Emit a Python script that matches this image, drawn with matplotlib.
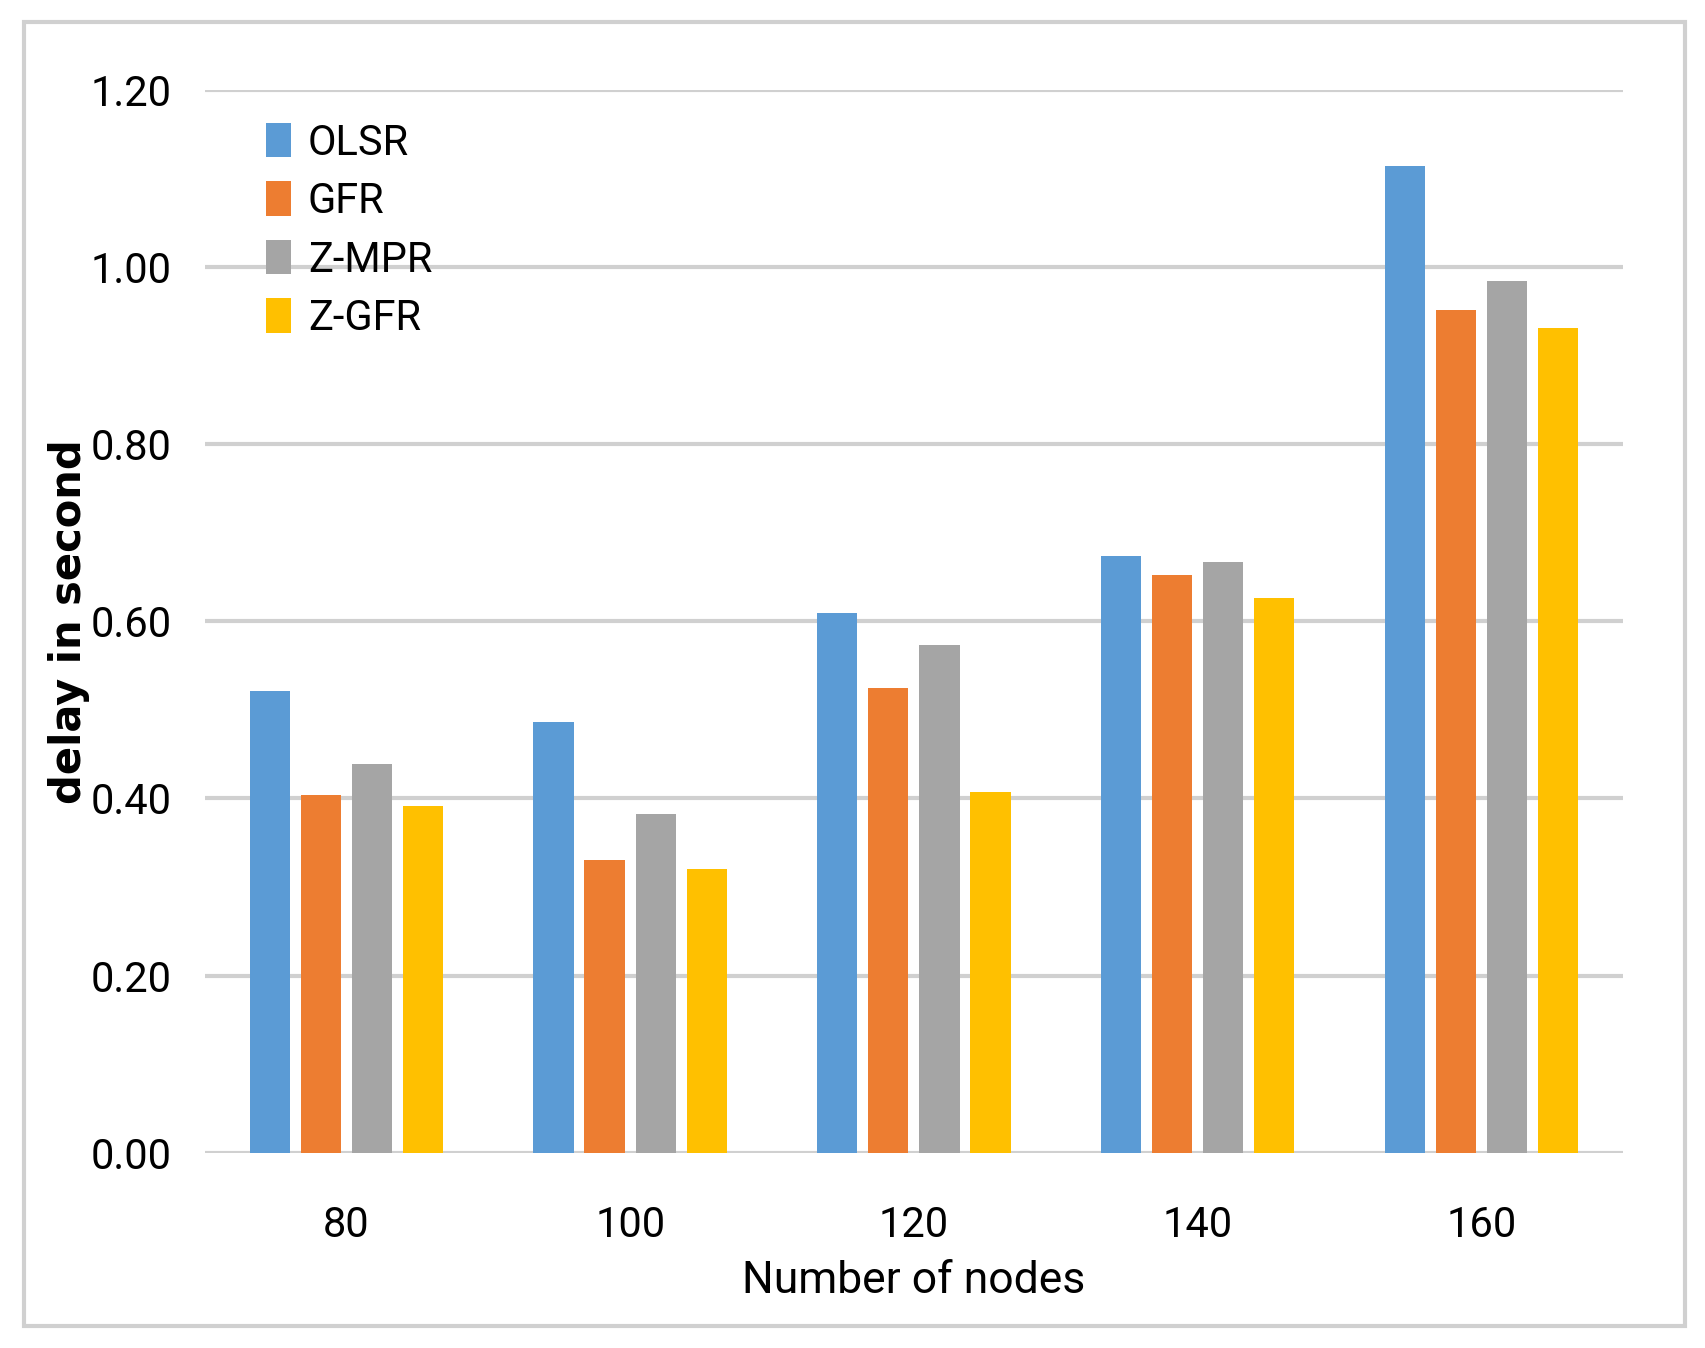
import matplotlib.pyplot as plt
import numpy as np
from matplotlib.patches import Rectangle

nodes = ["80", "100", "120", "140", "160"]
olsr = [0.521, 0.486, 0.609, 0.674, 1.115]
gfr = [0.404, 0.330, 0.525, 0.652, 0.952]
zmpr = [0.439, 0.382, 0.573, 0.667, 0.985]
zgfr = [0.391, 0.320, 0.407, 0.626, 0.931]

series = ["OLSR", "GFR", "Z-MPR", "Z-GFR"]
colors = ["#5B9BD5", "#ED7D31", "#A5A5A5", "#FFC000"]

narrow = ["Liberation Sans Narrow", "Roboto", "DejaVu Sans"]

fig = plt.figure(figsize=(17.05, 13.48), dpi=100)
# outer frame
fig.patches.append(Rectangle((0.014, 0.016), 0.974, 0.968, transform=fig.transFigure,
                             fill=False, edgecolor="#d0d0d0", linewidth=3))
ax = fig.add_axes([0.120, 0.145, 0.832, 0.788])

x = np.arange(len(nodes))
step = 0.18
width = 0.142
for i, (name, vals, c) in enumerate(zip(series, [olsr, gfr, zmpr, zgfr], colors)):
    ax.bar(x + (i - 1.5) * step, vals, width, color=c, label=name, zorder=3)

ax.set_xlim(-0.5, 4.5)
ax.set_ylim(0, 1.2)
ax.set_yticks(np.arange(0, 1.21, 0.2))
ax.set_yticklabels([f"{v:.2f}" for v in np.arange(0, 1.21, 0.2)], family=narrow, fontsize=30)
ax.set_xticks(x)
ax.set_xticklabels(nodes, family=narrow, fontsize=30)
ax.tick_params(axis="x", length=0, pad=38)
ax.tick_params(axis="y", length=0, pad=24)
ax.yaxis.grid(True, color="#d0d0d0", linewidth=3, zorder=0)
for s in ax.spines.values():
    s.set_visible(False)

ax.set_xlabel("Number of nodes", family=narrow, fontsize=32, labelpad=10)
ax.set_ylabel("delay in second", fontsize=30, fontweight="bold", labelpad=0)

leg = ax.legend(loc="upper left", bbox_to_anchor=(0.017, 1.005), frameon=False,
                prop={"family": narrow, "size": 30}, handlelength=0.6, handleheight=0.9,
                handletextpad=0.4, labelspacing=0.42)

fig.savefig("out.png", dpi=100)
